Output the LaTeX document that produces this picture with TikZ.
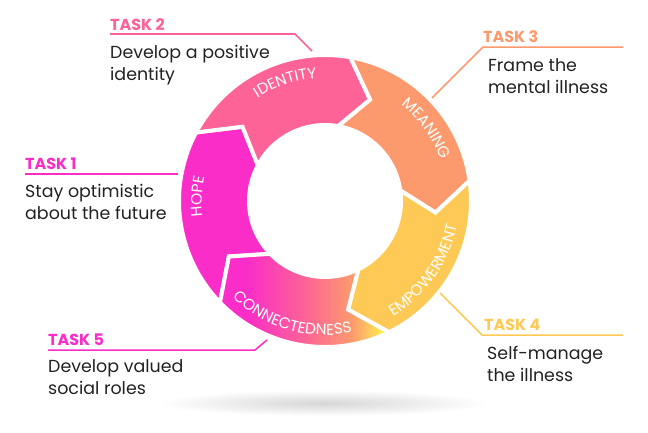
\documentclass[tikz,border=0pt]{standalone}
\usepackage{fontspec}
\setmainfont{Poppins}
\usetikzlibrary{decorations.text}
\definecolor{hopecol}{RGB}{250,45,200}
\definecolor{identcol}{RGB}{253,99,150}
\definecolor{meancol}{RGB}{252,154,110}
\definecolor{empowcol}{RGB}{254,202,85}
\definecolor{tipcol}{RGB}{253,236,80}
\definecolor{textcol}{RGB}{34,34,34}
\pgfdeclarehorizontalshading{connshade}{100bp}{color(0bp)=(hopecol); color(33bp)=(hopecol); color(50bp)=(identcol); color(64bp)=(meancol); color(73bp)=(tipcol); color(100bp)=(tipcol)}
\newcommand\arcfont{\fontsize{15.5}{18}\selectfont}

\begin{document}
\begin{tikzpicture}[x=1bp, y=1bp,
  seg/.style={draw=white, line width=4bp},
  arclbl/.style={decorate, decoration={text along path, text align=center, text color=white, text={|\arcfont|#1}}},
  tasklbl/.style={anchor=base west, inner sep=0pt, font=\fontsize{16}{18}\selectfont\bfseries},
  desc/.style={anchor=base west, inner sep=0pt, align=left, text=textcol, font=\fontsize{17.5}{21.5}\selectfont},
  lead/.style={line width=1.5bp}]
\useasboundingbox (0,0) rectangle (648,432);
\shade[inner color=black!16, outer color=white] (323,29) ellipse[x radius=165, y radius=13];

\begin{scope}[shift={(325,231)}]
\filldraw[seg, fill=hopecol] (224:146) arc[start angle=224, end angle=152, radius=146] -- (138:111) -- (152:76) arc[start angle=152, end angle=224, radius=76] -- (210:111) -- cycle;
\filldraw[seg, fill=identcol] (152:146) arc[start angle=152, end angle=80, radius=146] -- (66:111) -- (80:76) arc[start angle=80, end angle=152, radius=76] -- (138:111) -- cycle;
\filldraw[seg, fill=meancol] (80:146) arc[start angle=80, end angle=8, radius=146] -- (-6:111) -- (8:76) arc[start angle=8, end angle=80, radius=76] -- (66:111) -- cycle;
\filldraw[seg, fill=empowcol] (8:146) arc[start angle=8, end angle=-64, radius=146] -- (-78:111) -- (-64:76) arc[start angle=-64, end angle=8, radius=76] -- (-6:111) -- cycle;
\shadedraw[seg, shading=connshade] (-64:146) arc[start angle=-64, end angle=-136, radius=146] -- (-150:111) -- (-136:76) arc[start angle=-136, end angle=-64, radius=76] -- (-78:111) -- cycle;

\path[arclbl=HOPE] (208:123) arc[start angle=208, end angle=148, radius=123];
\path[arclbl=IDENTITY] (140:123) arc[start angle=140, end angle=77, radius=123];
\path[arclbl=MEANING] (70:123) arc[start angle=70, end angle=1, radius=123];
\path[arclbl=EMPOWERMENT] (-75:134) arc[start angle=-75, end angle=5, radius=134];
\path[arclbl=CONNECTEDNESS] (-146:134) arc[start angle=-146, end angle=-66, radius=134];
\end{scope}

\node[tasklbl, text=hopecol] (task1) at (25,263) {TASK 1};
\coordinate (t1a) at (25,258);
\coordinate (t1b) at (178,258);
\draw[lead, hopecol] (t1a) -- (t1b);
\node[desc] (desc1) at (25,213) {Stay optimistic\\about the future};

\node[tasklbl, text=identcol] (task2) at (110,401.5) {TASK 2};
\coordinate (t2a) at (110,398);
\coordinate (t2b) at (295,398);
\coordinate (t2c) at (312,381);
\draw[lead, identcol] (t2a) -- (t2b) -- (t2c);
\node[desc] (desc2) at (110,352) {Develop a positive\\identity};

\node[tasklbl, text=meancol] (task3) at (483,389.5) {TASK 3};
\coordinate (t3a) at (432,334);
\coordinate (t3b) at (483,385);
\coordinate (t3c) at (623,385);
\draw[lead, meancol] (t3a) -- (t3b) -- (t3c);
\node[desc] (desc3) at (488,339) {Frame the\\mental illness};

\node[tasklbl, text=empowcol] (task4) at (484,102) {TASK 4};
\coordinate (t4a) at (440,139);
\coordinate (t4b) at (482,97);
\coordinate (t4c) at (623,97);
\draw[lead, empowcol] (t4a) -- (t4b) -- (t4c);
\node[desc] (desc4) at (487,51) {Self-manage\\the illness};

\node[tasklbl, text=hopecol] (task5) at (48,87) {TASK 5};
\coordinate (t5a) at (48,82);
\coordinate (t5b) at (255,82);
\coordinate (t5c) at (267,92);
\draw[lead, hopecol] (t5a) -- (t5b) -- (t5c);
\node[desc] (desc5) at (48,38) {Develop valued\\social roles};
\end{tikzpicture}
\end{document}
